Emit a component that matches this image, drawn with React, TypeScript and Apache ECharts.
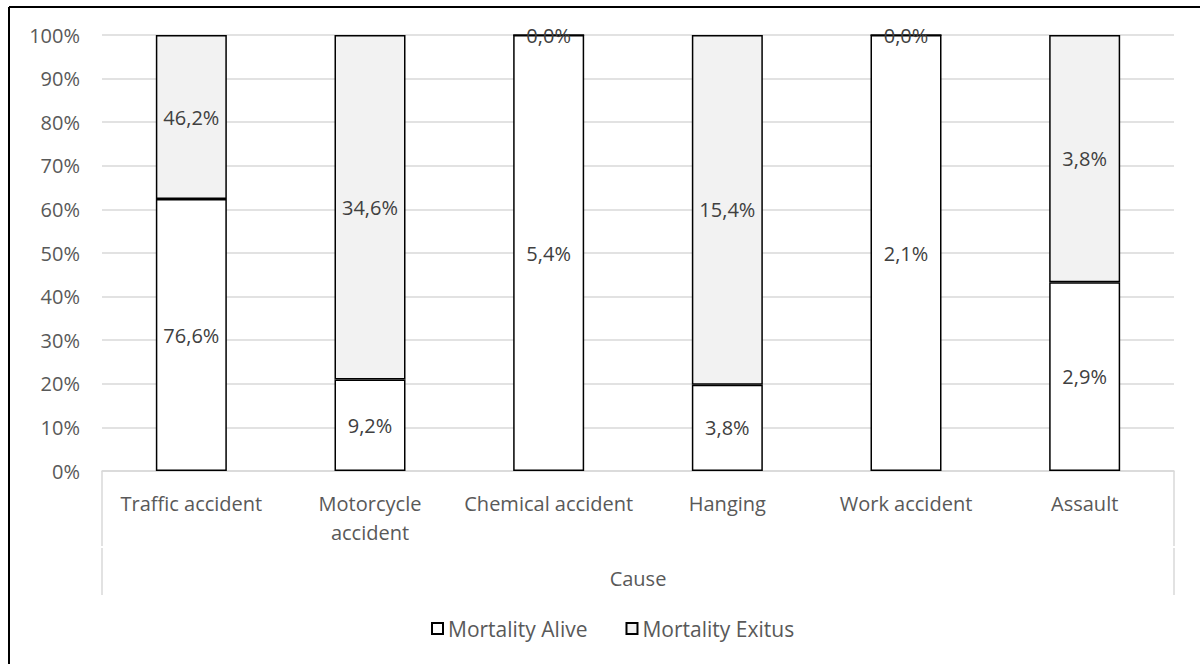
import React, { useEffect, useRef } from "react";
import * as echarts from "echarts";

const categories = ["Traffic accident", "Motorcycle accident", "Chemical accident", "Hanging", "Work accident", "Assault"];
const alivePct = [76.6, 9.2, 5.4, 3.8, 2.1, 2.9];
const exitusPct = [46.2, 34.6, 0.0, 15.4, 0.0, 3.8];
const yTicks = [0, 10, 20, 30, 40, 50, 60, 70, 80, 90, 100];
const seriesNames = ["Mortality Alive", "Mortality Exitus"];
const axisTitle = "Cause";

const FONT = "Open Sans";
const FS = 20;
const fmt = (v: number) => v.toFixed(1).replace(".", ",") + "%";

export default function App() {
  const ref = useRef<HTMLDivElement>(null);
  useEffect(() => {
    if (!ref.current) return;
    const chart = echarts.init(ref.current, null, { renderer: "svg" });
    const share = alivePct.map((a, i) => (a / (a + exitusPct[i])) * 100);
    const shareEx = share.map((s) => 100 - s);
    const gl = 102, gr = 1174, gt = 35, gb = 471;
    chart.setOption({
      animation: false,
      textStyle: { fontFamily: FONT },
      grid: { left: gl, right: 1200 - gr, top: gt, bottom: 664 - gb, containLabel: false },
      legend: {
        bottom: 20,
        left: 426,
        itemWidth: 11,
        itemHeight: 11,
        itemGap: 38,
        itemStyle: { borderColor: "#000", borderWidth: 2 },
        icon: "rect",
        textStyle: { fontSize: 21, color: "#595959", fontFamily: FONT },
        data: seriesNames,
      },
      xAxis: {
        type: "category",
        data: categories,
        axisLine: { show: true, lineStyle: { color: "#d9d9d9", width: 1.5 } },
        axisTick: { show: false },
        axisLabel: {
          interval: 0,
          margin: 18,
          fontSize: FS,
          color: "#595959",
          fontFamily: FONT,
          lineHeight: 29,
          formatter: (v: string) => (v.length > 17 ? v.replace(" ", "\n") : v),
        },
      },
      yAxis: {
        type: "value",
        min: yTicks[0],
        max: yTicks[yTicks.length - 1],
        interval: 10,
        axisLine: { show: false },
        axisTick: { show: false },
        splitLine: { lineStyle: { color: "#d9d9d9", width: 1.5 } },
        axisLabel: { margin: 22, fontSize: FS, color: "#595959", fontFamily: FONT, formatter: "{value}%" },
      },
      series: [
        {
          name: seriesNames[0],
          type: "bar",
          stack: "s",
          barWidth: 71,
          data: share,
          itemStyle: { color: "#ffffff", borderColor: "#000000", borderWidth: 1.5 },
          label: {
            show: true,
            position: "inside",
            fontSize: FS,
            color: "#404040",
            fontFamily: FONT,
            formatter: (p: any) => fmt(alivePct[p.dataIndex]),
          },
        },
        {
          name: seriesNames[1],
          type: "bar",
          stack: "s",
          barWidth: 71,
          data: shareEx,
          itemStyle: { color: "#f2f2f2", borderColor: "#000000", borderWidth: 1.5 },
          label: {
            show: true,
            position: "inside",
            fontSize: FS,
            color: "#404040",
            fontFamily: FONT,
            formatter: (p: any) => fmt(exitusPct[p.dataIndex]),
          },
        },
      ],
      graphic: [
        { type: "line", shape: { x1: 9, y1: 7, x2: 1300, y2: 7 }, style: { stroke: "#000", lineWidth: 2 } },
        { type: "line", shape: { x1: 9, y1: 7, x2: 9, y2: 700 }, style: { stroke: "#000", lineWidth: 2 } },
        { type: "line", shape: { x1: gl, y1: gb, x2: gl, y2: 546 }, style: { stroke: "#d9d9d9", lineWidth: 1.5 } },
        { type: "line", shape: { x1: gl, y1: 548, x2: gl, y2: 595 }, style: { stroke: "#d9d9d9", lineWidth: 1.5 } },
        { type: "line", shape: { x1: gr, y1: gb, x2: gr, y2: 546 }, style: { stroke: "#d9d9d9", lineWidth: 1.5 } },
        { type: "line", shape: { x1: gr, y1: 548, x2: gr, y2: 595 }, style: { stroke: "#d9d9d9", lineWidth: 1.5 } },
        {
          type: "text",
          x: (gl + gr) / 2,
          y: 578,
          style: { text: axisTitle, fontSize: FS, fill: "#595959", fontFamily: FONT, align: "center", verticalAlign: "middle" },
        },
      ],
    });
    return () => chart.dispose();
  }, []);
  return <div ref={ref} style={{ position: "absolute", left: 0, top: 0, width: 1200, height: 664, background: "#fff" }} />;
}
